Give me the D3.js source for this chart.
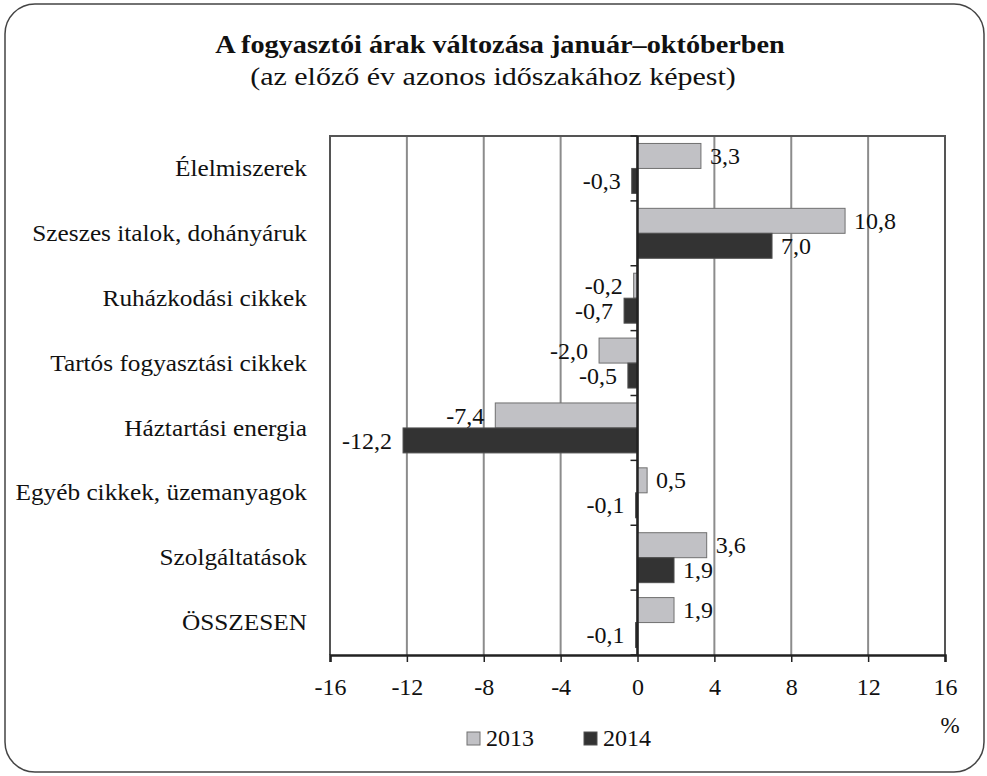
<!DOCTYPE html>
<html>
<head>
    <title>A fogyasztói árak változása</title>
    <style>
        body { margin: 0; background: #fff; }
        .grid line { stroke: #8c8c8c; stroke-width: 2px; }
    </style>
    <script src="https://d3js.org/d3.v7.min.js"></script>
</head>
<body>
    <div id="chart"></div>
    <script>
        // data
        const categories = [
            "Élelmiszerek",
            "Szeszes italok, dohányáruk",
            "Ruházkodási cikkek",
            "Tartós fogyasztási cikkek",
            "Háztartási energia",
            "Egyéb cikkek, üzemanyagok",
            "Szolgáltatások",
            "ÖSSZESEN"
        ];
        const values2013 = [3.3, 10.8, -0.2, -2.0, -7.4, 0.5, 3.6, 1.9];
        const values2014 = [-0.3, 7.0, -0.7, -0.5, -12.2, -0.1, 1.9, -0.1];
        const years = ["2013", "2014"];
        const xTicks = [-16, -12, -8, -4, 0, 4, 8, 12, 16];

        const width = 987;
        const height = 776;
        const margin = {top: 136, right: 42, bottom: 121, left: 330};
        const colors = {"2013": "#c1c1c5", "2014": "#333333"};
        const strokes = {"2013": "#707070", "2014": "#505050"};
        const serif = "'Liberation Serif', 'Times New Roman', 'DejaVu Serif', serif";
        const fmt = v => d3.format(".1f")(v).replace("−", "-").replace(".", ",");

        // the original uses Garamond, which runs wider than Times
        function widen(sel, k) {
            sel.each(function () {
                const w = this.getComputedTextLength();
                d3.select(this).attr("textLength", w * k).attr("lengthAdjust", "spacingAndGlyphs");
            });
        }

        const svg = d3.select("#chart").append("svg")
            .attr("width", width)
            .attr("height", height)
            .attr("font-family", serif);

        // rounded frame
        svg.append("rect")
            .attr("x", 5).attr("y", 4)
            .attr("width", 979).attr("height", 768)
            .attr("rx", 30).attr("ry", 30)
            .attr("fill", "none")
            .attr("stroke", "#444")
            .attr("stroke-width", 1.5);

        svg.append("text")
            .attr("x", 500).attr("y", 53)
            .attr("text-anchor", "middle")
            .attr("font-size", 25)
            .attr("font-weight", "bold")
            .attr("fill", "#111")
            .text("A fogyasztói árak változása január–októberben")
            .call(widen, 1.13);

        svg.append("text")
            .attr("x", 493).attr("y", 85)
            .attr("text-anchor", "middle")
            .attr("font-size", 25)
            .attr("fill", "#111")
            .text("(az előző év azonos időszakához képest)")
            .call(widen, 1.2);

        const x = d3.scaleLinear()
            .domain([-16, 16])
            .range([margin.left, width - margin.right]);

        const y = d3.scaleBand()
            .domain(categories)
            .range([margin.top, height - margin.bottom])
            .paddingInner(0.23)
            .paddingOuter(0.115);

        const inner = d3.scaleBand()
            .domain(years)
            .range([0, y.bandwidth()]);

        const yTop = margin.top, yBottom = height - margin.bottom;

        // gridlines
        svg.append("g").attr("class", "grid")
            .selectAll("line")
            .data(xTicks)
            .enter().append("line")
            .attr("x1", d => x(d)).attr("x2", d => x(d))
            .attr("y1", yTop).attr("y2", yBottom);

        // plot border (top, left, right)
        svg.append("path")
            .attr("d", `M${x(-16)},${yBottom}V${yTop}H${x(16)}V${yBottom}`)
            .attr("fill", "none")
            .attr("stroke", "#555")
            .attr("stroke-width", 2);

        // bars
        const bars = [];
        categories.forEach((c, i) => {
            bars.push({cat: c, year: "2013", value: values2013[i]});
            bars.push({cat: c, year: "2014", value: values2014[i]});
        });

        svg.append("g").selectAll("rect")
            .data(bars)
            .enter().append("rect")
            .attr("x", d => x(Math.min(0, d.value)))
            .attr("y", d => y(d.cat) + inner(d.year))
            .attr("width", d => Math.abs(x(d.value) - x(0)))
            .attr("height", inner.bandwidth())
            .attr("fill", d => colors[d.year])
            .attr("stroke", d => strokes[d.year])
            .attr("stroke-width", 1);

        // value labels
        svg.append("g").selectAll("text")
            .data(bars)
            .enter().append("text")
            .attr("x", d => d.value >= 0 ? x(d.value) + 9 : x(d.value) - 11)
            .attr("y", d => y(d.cat) + inner(d.year) + inner.bandwidth() / 2)
            .attr("dy", "0.34em")
            .attr("text-anchor", d => d.value >= 0 ? "start" : "end")
            .attr("font-size", 24)
            .attr("fill", "#111")
            .text(d => fmt(d.value));

        // zero axis with category ticks
        const boundaries = d3.range(categories.length + 1).map(i => yTop + i * (yBottom - yTop) / categories.length);
        svg.append("g").selectAll("line")
            .data(boundaries)
            .enter().append("line")
            .attr("x1", x(0) - 7).attr("x2", x(0))
            .attr("y1", d => d).attr("y2", d => d)
            .attr("stroke", "#222").attr("stroke-width", 1.5);
        svg.append("line")
            .attr("x1", x(0)).attr("x2", x(0))
            .attr("y1", yTop).attr("y2", yBottom)
            .attr("stroke", "#222").attr("stroke-width", 2.5);

        // category labels
        svg.append("g").selectAll("text")
            .data(categories)
            .enter().append("text")
            .attr("x", margin.left - 23)
            .attr("y", (d, i) => yTop + (i + 0.5) * (yBottom - yTop) / categories.length)
            .attr("dy", "0.33em")
            .attr("text-anchor", "end")
            .attr("font-size", 23)
            .attr("fill", "#111")
            .text(d => d)
            .call(widen, 1.1);

        // x axis
        const xAxis = svg.append("g")
            .attr("transform", `translate(0,${yBottom})`)
            .call(d3.axisBottom(x).tickValues(xTicks).tickSize(7).tickPadding(16).tickFormat(d => String(d)))
            .attr("font-family", serif)
            .attr("font-size", 24);
        xAxis.select(".domain").attr("stroke", "#222").attr("stroke-width", 2.5);
        xAxis.selectAll(".tick line").attr("stroke", "#222").attr("stroke-width", 1.5);
        xAxis.selectAll(".tick text").attr("fill", "#111");

        svg.append("text")
            .attr("x", 950).attr("y", 733)
            .attr("text-anchor", "middle")
            .attr("font-size", 23)
            .attr("fill", "#111")
            .text("%");

        // legend
        const legend = svg.append("g").selectAll("g")
            .data(years)
            .enter().append("g")
            .attr("transform", (d, i) => `translate(${467 + i * 117},732)`);
        legend.append("rect")
            .attr("width", 13).attr("height", 13)
            .attr("fill", d => colors[d])
            .attr("stroke", d => strokes[d]);
        legend.append("text")
            .attr("x", 19).attr("y", 14)
            .attr("font-size", 24)
            .attr("fill", "#111")
            .text(d => d);
    </script>
</body>
</html>
